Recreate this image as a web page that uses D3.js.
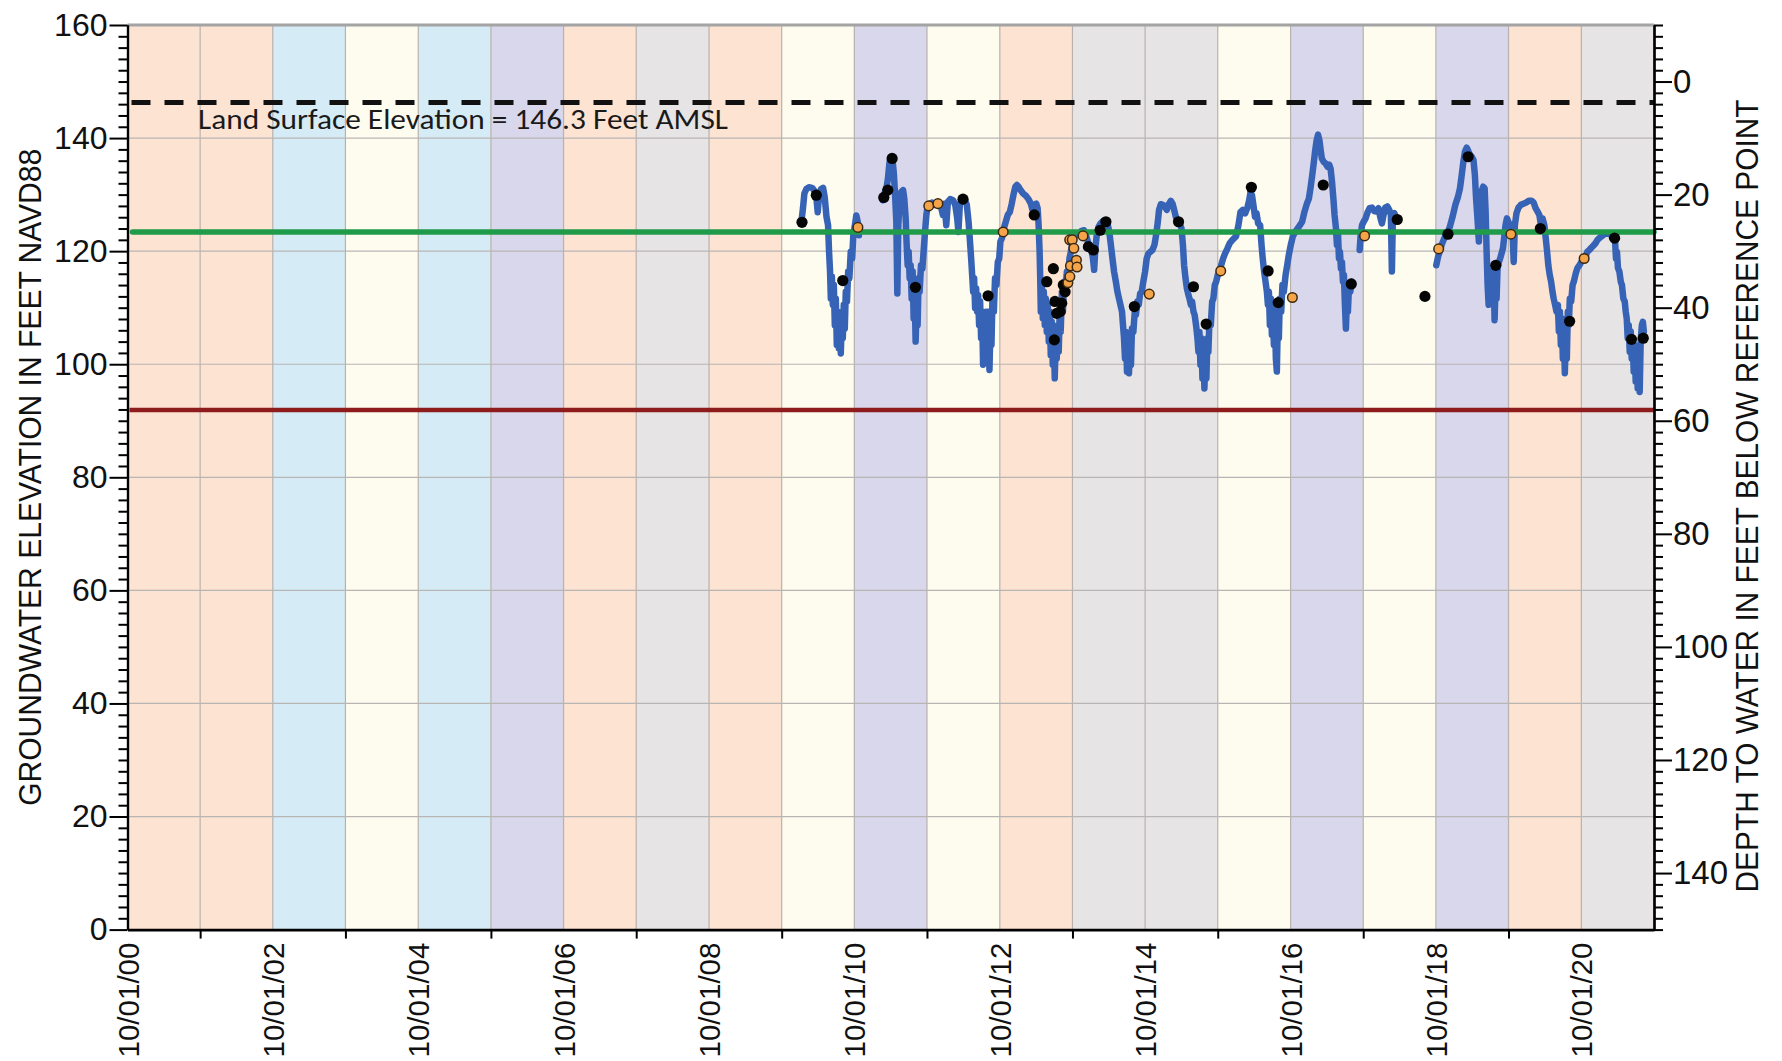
<!DOCTYPE html>
<html>
<head>
<meta charset="utf-8">
<title>Groundwater Elevation Hydrograph</title>
<script src="https://cdn.jsdelivr.net/npm/d3@7"></script>
<style>
  html, body { margin: 0; padding: 0; background: #ffffff; }
  svg { display: block; }
</style>
</head>
<body>
<svg id="chart" width="1782" height="1061"></svg>
<script>
// ---- Water year classification (water year ending Sep 30 of the listed year) ----
const waterYears = [2001, 2002, 2003, 2004, 2005, 2006, 2007, 2008, 2009, 2010, 2011,
                    2012, 2013, 2014, 2015, 2016, 2017, 2018, 2019, 2020, 2021];
const yearTypes  = ["D", "D", "AN", "BN", "AN", "W", "D", "C", "D", "BN", "W",
                    "BN", "D", "C", "C", "BN", "W", "BN", "W", "D", "C"];

// ---- Reference levels (feet NAVD88) ----
const landSurfaceElev = 146.3;
const referencePointElev = 150.0;
const measurableObjective = 123.4;
const minimumThreshold = 91.9;
const landSurfaceLabel = "Land Surface Elevation = 146.3 Feet AMSL";

// ---- Axis ticks and titles ----
const elevMajorTicks = [0, 20, 40, 60, 80, 100, 120, 140, 160];
const depthMajorTicks = [0, 20, 40, 60, 80, 100, 120, 140];
const leftTitle = "GROUNDWATER ELEVATION IN FEET NAVD88";
const rightTitle = "DEPTH TO WATER IN FEET BELOW REFERENCE POINT";

// ---- Continuous transducer record, split where the logger was out ----
const transducer2010 = [
  ["2010-01-08",125.2],["2010-01-16",127.6],["2010-01-23",130.2],["2010-02-02",131.0],
  ["2010-02-15",131.3],["2010-03-03",131.2],["2010-03-14",130.7],["2010-03-24",129.6],
  ["2010-03-31",126.9],["2010-04-07",129.9],["2010-04-17",131.0],["2010-04-27",131.2],
  ["2010-05-05",129.6],["2010-05-14",126.1],["2010-05-22",124.6],["2010-05-27",119.9],
  ["2010-06-01",116.4],["2010-06-05",111.6],["2010-06-10",115.5],["2010-06-15",110.5],
  ["2010-06-20",114.0],["2010-06-25",106.9],["2010-06-30",111.6],["2010-07-05",103.4],
  ["2010-07-10",109.3],["2010-07-15",102.8],["2010-07-20",107.5],["2010-07-25",101.9],
  ["2010-07-30",108.1],["2010-08-04",104.6],["2010-08-09",110.5],["2010-08-14",106.3],
  ["2010-08-19",112.8],["2010-08-25",111.1],["2010-08-31",116.4],["2010-09-06",115.2],
  ["2010-09-13",119.9],["2010-09-20",118.7],["2010-09-26",122.9],["2010-10-04",124.6],
  ["2010-10-11",126.3],["2010-10-18",125.2],["2010-10-24",122.8]
];

const transducer2011to2017 = [
  ["2011-02-21",129.0],["2011-03-01",130.2],["2011-03-11",131.1],["2011-03-19",132.9],
  ["2011-03-26",135.5],["2011-04-02",136.7],["2011-04-10",136.4],["2011-04-17",134.0],
  ["2011-04-23",130.5],["2011-04-30",125.2],["2011-05-05",112.5],["2011-05-10",124.6],
  ["2011-05-17",129.3],["2011-05-25",130.5],["2011-06-03",130.8],["2011-06-09",129.3],
  ["2011-06-16",125.8],["2011-06-21",121.1],["2011-06-26",117.5],["2011-07-01",119.9],
  ["2011-07-06",115.2],["2011-07-11",117.5],["2011-07-16",111.6],["2011-07-21",116.4],
  ["2011-07-26",108.1],["2011-07-31",112.8],["2011-08-05",104.0],["2011-08-10",110.5],
  ["2011-08-15",106.9],["2011-08-20",115.2],["2011-08-25",112.8],["2011-09-01",117.5],
  ["2011-09-08",116.9],["2011-09-14",119.9],["2011-09-21",123.4],["2011-09-28",126.4],
  ["2011-10-04",127.9],["2011-10-14",128.3],["2011-10-26",128.6],["2011-11-07",128.2],
  ["2011-11-17",128.6],["2011-11-28",128.4],["2011-12-10",127.9],["2011-12-20",126.4],
  ["2011-12-28",128.4],["2012-01-06",124.6],["2012-01-14",128.7],["2012-01-26",129.2],
  ["2012-02-09",129.0],["2012-02-20",128.2],["2012-03-01",125.8],["2012-03-07",123.4],
  ["2012-03-14",128.2],["2012-03-24",129.2],["2012-04-07",129.2],["2012-04-18",128.2],
  ["2012-04-27",125.2],["2012-05-03",122.3],["2012-05-10",118.7],["2012-05-15",115.8],
  ["2012-05-20",112.8],["2012-05-25",115.2],["2012-05-30",109.9],["2012-06-04",113.4],
  ["2012-06-09",109.3],["2012-06-14",112.2],["2012-06-19",106.9],["2012-06-24",111.1],
  ["2012-06-29",104.6],["2012-07-04",109.3],["2012-07-09",99.9],["2012-07-14",108.1],
  ["2012-07-19",103.4],["2012-07-24",109.3],["2012-07-29",104.6],["2012-08-03",109.3],
  ["2012-08-10",99.0],["2012-08-15",106.9],["2012-08-20",103.4],["2012-08-25",111.6],
  ["2012-09-01",109.3],["2012-09-07",115.2],["2012-09-14",114.0],["2012-09-21",118.1],
  ["2012-09-28",118.7],["2012-10-04",121.7],["2012-10-12",122.3],["2012-10-21",124.0],
  ["2012-10-31",125.2],["2012-11-10",126.4],["2012-11-20",126.9],["2012-11-30",128.4],
  ["2012-12-10",130.2],["2012-12-18",131.4],["2012-12-26",131.7],["2013-01-03",131.4],
  ["2013-01-13",130.8],["2013-01-26",130.2],["2013-02-09",129.8],["2013-02-22",129.2],
  ["2013-03-06",128.4],["2013-03-14",127.3],["2013-03-23",128.2],["2013-04-02",128.4],
  ["2013-04-09",127.6],["2013-04-14",124.6],["2013-04-19",119.9],["2013-04-22",115.2],
  ["2013-04-25",109.3],["2013-04-30",114.0],["2013-05-05",108.1],["2013-05-10",112.8],
  ["2013-05-15",106.9],["2013-05-20",111.6],["2013-05-25",105.7],["2013-05-30",110.5],
  ["2013-06-04",104.0],["2013-06-09",109.3],["2013-06-14",101.6],["2013-06-19",107.5],
  ["2013-06-24",99.9],["2013-06-29",105.7],["2013-07-04",97.5],["2013-07-09",104.6],
  ["2013-07-14",101.0],["2013-07-19",106.9],["2013-07-24",102.2],["2013-07-29",109.3],
  ["2013-08-03",105.7],["2013-08-09",112.8],["2013-08-14",109.3],["2013-08-20",114.6],
  ["2013-08-27",113.4],["2013-09-03",116.4],["2013-09-09",115.8],["2013-09-16",118.7],
  ["2013-09-23",119.9],["2013-10-01",121.7],["2013-10-11",122.6],["2013-10-22",122.8],
  ["2013-11-03",123.1],["2013-11-16",123.6],["2013-11-28",123.7],["2013-12-08",122.8],
  ["2013-12-20",121.4],["2014-01-01",120.5],["2014-01-11",119.0],["2014-01-18",116.7],
  ["2014-01-24",120.5],["2014-01-31",122.8],["2014-02-09",124.3],["2014-02-19",124.9],
  ["2014-03-02",125.3],["2014-03-14",125.2],["2014-03-26",124.9],["2014-04-04",123.4],
  ["2014-04-12",121.1],["2014-04-20",118.7],["2014-04-28",116.4],["2014-05-07",114.6],
  ["2014-05-15",112.8],["2014-05-23",111.6],["2014-06-01",110.2],["2014-06-07",109.3],
  ["2014-06-12",106.9],["2014-06-17",104.6],["2014-06-22",101.0],["2014-06-27",105.7],
  ["2014-07-02",98.7],["2014-07-07",104.0],["2014-07-12",98.4],["2014-07-17",103.4],
  ["2014-07-22",99.9],["2014-07-27",106.3],["2014-08-03",105.7],["2014-08-10",109.3],
  ["2014-08-16",108.7],["2014-08-23",111.1],["2014-08-30",110.5],["2014-09-06",112.5],
  ["2014-09-14",112.8],["2014-09-22",114.6],["2014-10-01",116.4],["2014-10-09",118.7],
  ["2014-10-18",119.6],["2014-10-28",119.9],["2014-11-07",120.2],["2014-11-17",121.1],
  ["2014-11-25",122.8],["2014-12-04",125.2],["2014-12-10",127.3],["2014-12-19",128.3],
  ["2014-12-29",128.2],["2015-01-08",127.9],["2015-01-18",127.3],["2015-01-28",128.3],
  ["2015-02-07",128.9],["2015-02-16",128.4],["2015-02-24",127.3],["2015-03-04",126.1],
  ["2015-03-14",125.3],["2015-03-24",124.9],["2015-04-02",124.0],["2015-04-09",121.1],
  ["2015-04-15",117.5],["2015-04-22",115.2],["2015-04-29",113.4],["2015-05-05",112.5],
  ["2015-05-12",111.6],["2015-05-19",110.5],["2015-05-25",111.1],["2015-06-01",109.3],
  ["2015-06-07",108.7],["2015-06-14",106.9],["2015-06-21",104.6],["2015-06-26",102.2],
  ["2015-07-01",105.7],["2015-07-06",99.9],["2015-07-11",104.6],["2015-07-16",97.5],
  ["2015-07-21",103.4],["2015-07-26",95.7],["2015-07-31",102.2],["2015-08-05",97.5],
  ["2015-08-10",104.6],["2015-08-15",102.2],["2015-08-20",107.5],["2015-08-27",106.9],
  ["2015-09-03",111.1],["2015-09-09",111.6],["2015-09-16",114.0],["2015-09-23",114.6],
  ["2015-10-01",115.8],["2015-10-09",116.4],["2015-10-18",117.5],["2015-10-28",118.7],
  ["2015-11-07",119.6],["2015-11-19",120.5],["2015-11-30",121.4],["2015-12-14",122.0],
  ["2016-01-01",122.6],["2016-01-13",124.6],["2016-01-23",126.9],["2016-02-04",127.3],
  ["2016-02-16",126.7],["2016-02-27",127.7],["2016-03-07",129.0],["2016-03-14",130.5],
  ["2016-03-21",129.9],["2016-03-28",128.2],["2016-04-05",126.1],["2016-04-13",126.7],
  ["2016-04-21",124.9],["2016-05-01",124.6],["2016-05-08",121.1],["2016-05-14",118.7],
  ["2016-05-21",116.4],["2016-05-28",114.6],["2016-06-04",112.8],["2016-06-09",110.5],
  ["2016-06-14",112.8],["2016-06-19",106.9],["2016-06-24",111.6],["2016-06-29",105.2],
  ["2016-07-04",110.5],["2016-07-09",103.4],["2016-07-14",109.3],["2016-07-19",101.0],
  ["2016-07-24",98.7],["2016-07-29",108.1],["2016-08-03",104.6],["2016-08-08",111.6],
  ["2016-08-15",109.3],["2016-08-21",114.0],["2016-08-28",112.8],["2016-09-06",115.8],
  ["2016-09-14",117.5],["2016-09-22",119.3],["2016-10-02",121.1],["2016-10-12",122.6],
  ["2016-10-24",123.4],["2016-11-05",124.0],["2016-11-17",124.6],["2016-11-28",125.2],
  ["2016-12-10",127.0],["2016-12-22",128.4],["2017-01-01",129.3],["2017-01-10",131.4],
  ["2017-01-18",133.5],["2017-01-26",135.8],["2017-02-02",137.9],["2017-02-09",139.6],
  ["2017-02-16",140.6],["2017-02-23",139.6],["2017-03-01",137.9],["2017-03-07",136.4],
  ["2017-03-16",135.8],["2017-03-26",135.5],["2017-04-05",134.9],["2017-04-13",135.3],
  ["2017-04-20",134.6],["2017-04-27",132.3],["2017-05-04",129.3],["2017-05-10",126.4],
  ["2017-05-17",124.0],["2017-05-22",121.1],["2017-05-27",123.4],["2017-06-01",118.7],
  ["2017-06-06",119.9],["2017-06-11",116.9],["2017-06-16",118.1],["2017-06-21",114.6],
  ["2017-06-26",115.8],["2017-07-01",110.5],["2017-07-06",106.3],["2017-07-11",111.6],
  ["2017-07-16",109.3],["2017-07-21",113.4],["2017-07-28",112.8],["2017-08-03",114.6]
];

const transducer2017to2018 = [
  ["2017-09-13",120.2],["2017-09-18",122.8],["2017-09-25",124.6],["2017-10-03",125.2],
  ["2017-10-13",125.8],["2017-10-23",126.9],["2017-11-02",127.6],["2017-11-14",127.7],
  ["2017-11-25",127.1],["2017-12-07",127.0],["2017-12-17",127.6],["2017-12-25",126.1],
  ["2018-01-03",124.9],["2018-01-11",126.4],["2018-01-20",127.7],["2018-01-30",127.9],
  ["2018-02-09",127.3],["2018-02-17",126.4],["2018-02-22",116.4],["2018-02-27",126.4],
  ["2018-03-07",126.7],["2018-03-15",125.8]
];

const transducer2018to2021 = [
  ["2018-10-03",117.5],["2018-10-12",119.0],["2018-10-20",119.9],["2018-10-30",121.1],
  ["2018-11-09",122.0],["2018-11-19",122.8],["2018-11-28",123.1],["2018-12-10",124.3],
  ["2018-12-24",126.1],["2019-01-07",128.2],["2019-01-20",129.6],["2019-01-30",131.1],
  ["2019-02-08",133.5],["2019-02-16",135.8],["2019-02-24",137.6],["2019-03-05",138.3],
  ["2019-03-13",137.7],["2019-03-22",137.0],["2019-03-30",136.7],["2019-04-08",136.1],
  ["2019-04-15",133.5],["2019-04-21",129.3],["2019-04-28",125.8],["2019-05-05",121.7],
  ["2019-05-12",127.0],["2019-05-18",130.5],["2019-05-27",131.4],["2019-06-03",131.1],
  ["2019-06-08",127.0],["2019-06-13",119.9],["2019-06-18",114.0],["2019-06-23",110.5],
  ["2019-06-28",115.2],["2019-07-02",111.6],["2019-07-08",116.4],["2019-07-13",112.8],
  ["2019-07-18",117.0],["2019-07-23",107.8],["2019-07-28",114.0],["2019-08-02",111.6],
  ["2019-08-07",117.0],["2019-08-14",118.1],["2019-08-20",118.7],["2019-08-27",119.6],
  ["2019-09-03",120.5],["2019-09-09",122.3],["2019-09-16",124.6],["2019-09-23",125.8],
  ["2019-09-30",125.2],["2019-10-06",124.6],["2019-10-13",122.8],["2019-10-20",124.6],
  ["2019-10-27",118.1],["2019-11-02",124.6],["2019-11-10",126.7],["2019-11-20",127.7],
  ["2019-12-02",128.2],["2019-12-15",128.4],["2019-12-29",128.6],["2020-01-11",128.9],
  ["2020-01-25",128.9],["2020-02-04",128.6],["2020-02-14",127.6],["2020-02-24",127.0],
  ["2020-03-04",126.4],["2020-03-12",124.6],["2020-03-20",125.8],["2020-03-29",124.6],
  ["2020-04-05",122.3],["2020-04-12",119.9],["2020-04-18",117.5],["2020-04-25",115.8],
  ["2020-05-02",114.6],["2020-05-09",112.8],["2020-05-15",111.6],["2020-05-22",110.5],
  ["2020-05-29",109.3],["2020-06-05",110.5],["2020-06-10",105.8],["2020-06-15",109.3],
  ["2020-06-20",103.4],["2020-06-25",108.1],["2020-06-30",101.0],["2020-07-05",105.8],
  ["2020-07-10",98.4],["2020-07-15",104.6],["2020-07-20",101.0],["2020-07-25",109.3],
  ["2020-07-30",106.9],["2020-08-04",111.6],["2020-08-11",111.1],["2020-08-18",114.0],
  ["2020-08-24",114.6],["2020-09-03",116.1],["2020-09-11",117.0],["2020-09-21",117.5],
  ["2020-10-01",118.1],["2020-10-11",118.7],["2020-10-21",119.0],["2020-10-31",119.9],
  ["2020-11-10",120.2],["2020-11-20",120.6],["2020-12-01",121.0],["2020-12-11",121.4],
  ["2020-12-21",122.0],["2021-01-02",122.4],["2021-01-14",122.7],["2021-01-26",123.0],
  ["2021-02-06",123.1],["2021-02-18",123.0],["2021-03-01",122.8],["2021-03-11",122.6],
  ["2021-03-19",122.0],["2021-03-24",118.7],["2021-03-29",119.9],["2021-04-03",117.0],
  ["2021-04-10",116.4],["2021-04-17",114.6],["2021-04-23",114.0],["2021-04-30",111.6],
  ["2021-05-07",111.1],["2021-05-12",109.3],["2021-05-17",108.1],["2021-05-22",104.6],
  ["2021-05-27",106.9],["2021-06-01",102.2],["2021-06-06",105.8],["2021-06-11",101.0],
  ["2021-06-16",104.6],["2021-06-21",98.7],["2021-06-26",103.4],["2021-07-01",96.9],
  ["2021-07-06",102.2],["2021-07-11",95.7],["2021-07-16",101.0],["2021-07-21",95.1],
  ["2021-07-26",104.0],["2021-08-01",106.9],["2021-08-06",107.5],["2021-08-11",105.8]
];

// ---- Manual (tape) measurements ----
const manualMeasurements = [
  ["2010-01-11",125.1],["2010-03-24",129.9],["2010-08-04",114.8],["2011-02-26",129.5],
  ["2011-03-18",130.8],["2011-04-09",136.4],["2011-08-04",113.6],["2012-03-30",129.2],
  ["2012-08-03",112.1],["2013-03-23",126.4],["2013-05-25",114.6],["2013-06-27",116.9],
  ["2013-07-02",104.3],["2013-07-05",111.1],["2013-07-14",109.0],["2013-07-31",109.3],
  ["2013-08-08",110.8],["2013-08-16",114.0],["2013-08-25",112.8],["2013-12-20",120.8],
  ["2014-01-14",120.2],["2014-02-17",123.7],["2014-03-18",125.2],["2014-08-08",110.2],
  ["2015-03-18",125.2],["2015-06-01",113.7],["2015-08-04",107.1],["2016-03-18",131.3],
  ["2016-06-10",116.5],["2016-07-31",110.9],["2017-03-14",131.7],["2017-08-02",114.2],
  ["2018-03-21",125.6],["2018-08-07",112.0],["2018-12-01",123.0],["2019-03-12",136.7],
  ["2019-07-29",117.5],["2020-03-09",124.0],["2020-08-03",107.6],["2021-03-17",122.3],
  ["2021-06-10",104.4],["2021-08-08",104.6]
];

// ---- Fall (seasonal-low reporting) measurements ----
const fallMeasurements = [
  ["2010-10-19",124.2],["2011-10-10",128.0],["2011-11-25",128.4],["2012-10-18",123.4],
  ["2013-09-08",114.4],["2013-09-18",115.5],["2013-09-21",117.4],["2013-09-17",122.0],
  ["2013-09-30",122.0],["2013-10-08",120.5],["2013-10-21",118.4],["2013-10-24",117.2],
  ["2013-11-23",122.7],["2014-10-22",112.4],["2015-10-16",116.5],["2016-10-10",111.8],
  ["2017-10-08",122.7],["2018-10-15",120.4],["2019-10-13",123.0],["2020-10-15",118.7]
];

// ---------------------------------------------------------------------------
const yearTypeColors = { W: "#d9d7eb", AN: "#d5ecf6", BN: "#fdfcef", D: "#fde3d2", C: "#e6e4e4" };
const tickFont = "'Liberation Sans', Arial, sans-serif";
const titleFont = "'Liberation Sans Narrow', 'Arial Narrow', 'Liberation Sans', Arial, sans-serif";

const svg = d3.select("#chart");
const parse = d3.timeParse("%Y-%m-%d");
const fmt = d3.timeFormat("%m/%d/%y");

const X0 = 127.5, X1 = 1654, Y0 = 929.6, Y1 = 25;
const x = d3.scaleTime().domain([new Date(2000, 9, 1), new Date(2021, 9, 1)]).range([X0, X1]);
const y = d3.scaleLinear().domain([0, 160]).range([Y0, Y1]);
const yDepth = d3.scaleLinear()
  .domain([referencePointElev - 0, referencePointElev - 160]).range([Y0, Y1]);

const wyStart = wy => new Date(wy - 1, 9, 1);
const wyEnd = wy => new Date(wy, 9, 1);

// Water year type shading
svg.append("g").selectAll("rect").data(waterYears).join("rect")
  .attr("x", d => x(wyStart(d)))
  .attr("width", d => x(wyEnd(d)) - x(wyStart(d)))
  .attr("y", Y1).attr("height", Y0 - Y1)
  .attr("fill", (d, i) => yearTypeColors[yearTypes[i]]);

// Gridlines
const grid = svg.append("g");
grid.selectAll("line.v").data(waterYears.slice(0, -1)).join("line")
  .attr("class", "v")
  .attr("x1", d => x(wyEnd(d))).attr("x2", d => x(wyEnd(d)))
  .attr("y1", Y1).attr("y2", Y0)
  .attr("stroke", "#b9b1ae").attr("stroke-width", 1.2);
grid.selectAll("line.h").data(elevMajorTicks.filter(v => v > 0 && v < 160)).join("line")
  .attr("class", "h")
  .attr("x1", X0).attr("x2", X1)
  .attr("y1", d => y(d)).attr("y2", d => y(d))
  .attr("stroke", "#b8b5b5").attr("stroke-width", 1.2);
grid.append("line")
  .attr("x1", X0).attr("x2", X1).attr("y1", Y1).attr("y2", Y1)
  .attr("stroke", "#a4a4a4").attr("stroke-width", 3);

// Minimum threshold
svg.append("line")
  .attr("x1", X0 + 2).attr("x2", X1)
  .attr("y1", y(minimumThreshold)).attr("y2", y(minimumThreshold))
  .attr("stroke", "#8e1c1c").attr("stroke-width", 4.5);

// Transducer record
const line = d3.line().x(d => x(parse(d[0]))).y(d => y(d[1]));
svg.append("g").selectAll("path")
  .data([transducer2010, transducer2011to2017, transducer2017to2018, transducer2018to2021])
  .join("path")
  .attr("d", line)
  .attr("fill", "none")
  .attr("stroke", "#3763b6")
  .attr("stroke-width", 6.5)
  .attr("stroke-linejoin", "round")
  .attr("stroke-linecap", "round");

// Measurable objective
svg.append("line")
  .attr("x1", X0 + 5).attr("x2", X1)
  .attr("y1", y(measurableObjective)).attr("y2", y(measurableObjective))
  .attr("stroke", "#1f9b4a").attr("stroke-width", 5.5)
  .attr("stroke-linecap", "round");

// Land surface
svg.append("line")
  .attr("x1", X0 + 4).attr("x2", X1)
  .attr("y1", y(landSurfaceElev)).attr("y2", y(landSurfaceElev))
  .attr("stroke", "#111").attr("stroke-width", 5)
  .attr("stroke-dasharray", "19 14");
svg.append("text")
  .attr("x", 198).attr("y", y(landSurfaceElev) + 27)
  .attr("font-family", "Carlito, Lato, 'Open Sans', sans-serif")
  .attr("font-size", 28)
  .attr("fill", "#1a1a1a")
  .attr("textLength", 530).attr("lengthAdjust", "spacingAndGlyphs")
  .text(landSurfaceLabel);

// Measurement points
svg.append("g").selectAll("circle").data(manualMeasurements).join("circle")
  .attr("cx", d => x(parse(d[0]))).attr("cy", d => y(d[1]))
  .attr("r", 5.6).attr("fill", "#050505");
svg.append("g").selectAll("circle").data(fallMeasurements).join("circle")
  .attr("cx", d => x(parse(d[0]))).attr("cy", d => y(d[1]))
  .attr("r", 4.8).attr("fill", "#f6a449")
  .attr("stroke", "#3b2a12").attr("stroke-width", 1.5);

// ---- Axes ----
function styleAxis(g, size) {
  g.select(".domain").attr("stroke", "#000").attr("stroke-width", 2.2);
  g.selectAll(".tick line").attr("stroke", "#000").attr("stroke-width", 2);
  g.selectAll(".tick text").attr("fill", "#111");
  g.attr("font-family", tickFont).attr("font-size", size);
}

const elevMinor = d3.range(0, 161, 2).filter(v => v % 20 !== 0);
const gLm = svg.append("g").attr("transform", `translate(${X0},0)`)
  .call(d3.axisLeft(y).tickValues(elevMinor).tickSize(9).tickSizeOuter(0).tickFormat(""));
styleAxis(gLm, 32);
const gL = svg.append("g").attr("transform", `translate(${X0},0)`)
  .call(d3.axisLeft(y).tickValues(elevMajorTicks).tickSize(18).tickSizeOuter(0).tickPadding(2));
styleAxis(gL, 32);

const depthMinor = d3.range(-10, 151, 2).filter(v => v % 20 !== 0);
const gRm = svg.append("g").attr("transform", `translate(${X1},0)`)
  .call(d3.axisRight(yDepth).tickValues(depthMinor).tickSize(9).tickSizeOuter(0).tickFormat(""));
styleAxis(gRm, 33);
const gR = svg.append("g").attr("transform", `translate(${X1},0)`)
  .call(d3.axisRight(yDepth).tickValues(depthMajorTicks).tickSize(18).tickSizeOuter(0).tickPadding(1));
styleAxis(gR, 33);

const oddYears = waterYears.filter(w => (w - 2001) % 2 === 0).map(w => new Date(w, 9, 1));
const evenYears = [2000].concat(waterYears).filter(w => w % 2 === 0).map(w => new Date(w, 9, 1));
const gBm = svg.append("g").attr("transform", `translate(0,${Y0})`)
  .call(d3.axisBottom(x).tickValues(oddYears.filter(d => d < x.domain()[1])).tickSize(9).tickSizeOuter(0).tickFormat(""));
styleAxis(gBm, 30);
gBm.select(".domain").attr("stroke-width", 2.6);
const gB = svg.append("g").attr("transform", `translate(0,${Y0})`)
  .call(d3.axisBottom(x).tickValues(evenYears).tickSize(0).tickSizeOuter(0).tickFormat(fmt));
styleAxis(gB, 29.5);
gB.select(".domain").remove();
gB.selectAll(".tick text")
  .attr("transform", "rotate(-90)")
  .attr("text-anchor", "end")
  .attr("x", -13).attr("y", 0).attr("dy", "0.36em");

// Axis titles
svg.append("text")
  .attr("transform", `translate(29,${(Y0 + Y1) / 2}) rotate(-90)`)
  .attr("text-anchor", "middle").attr("dy", "0.36em")
  .attr("font-family", titleFont).attr("font-size", 32).attr("fill", "#111")
  .attr("textLength", 657).attr("lengthAdjust", "spacingAndGlyphs")
  .text(leftTitle);
svg.append("text")
  .attr("transform", `translate(1746,496) rotate(-90)`)
  .attr("text-anchor", "middle").attr("dy", "0.36em")
  .attr("font-family", titleFont).attr("font-size", 32).attr("fill", "#111")
  .attr("textLength", 793).attr("lengthAdjust", "spacingAndGlyphs")
  .text(rightTitle);
</script>
</body>
</html>
